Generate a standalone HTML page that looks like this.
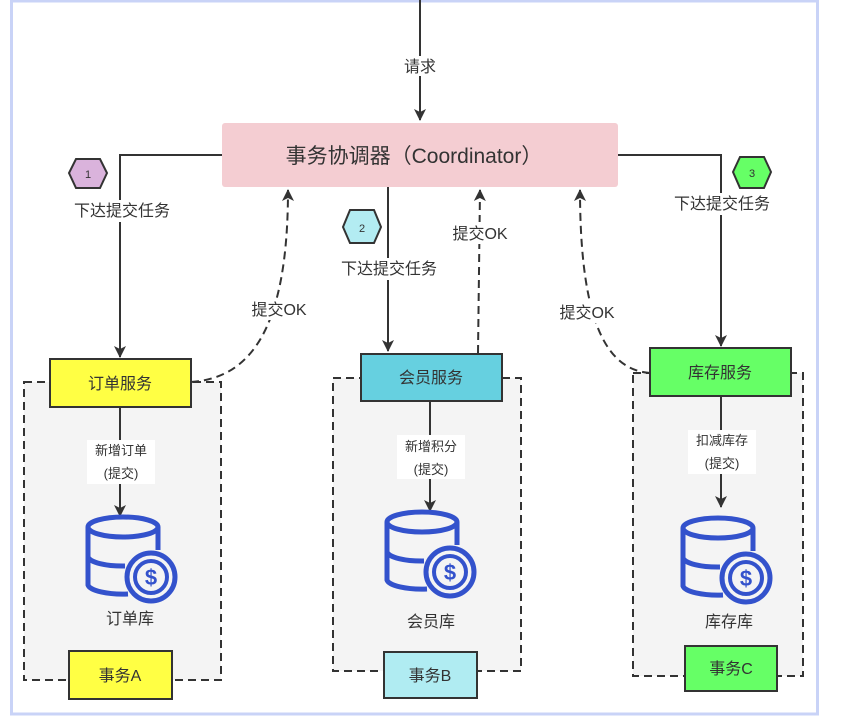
<!DOCTYPE html>
<html><head><meta charset="utf-8"><style>
html,body{margin:0;padding:0;background:#fff;}
svg{display:block;font-family:"Liberation Sans","Noto Sans CJK SC",sans-serif;}
</style></head><body>
<svg width="842" height="719" viewBox="0 0 842 719" xmlns="http://www.w3.org/2000/svg">
<defs>
<marker id="ar" markerWidth="14" markerHeight="14" refX="11" refY="6" orient="auto" markerUnits="userSpaceOnUse">
<path d="M0,0 L12,6 L0,12 L3,6 Z" fill="#333"/></marker>
<g id="db">
<path d="M-35,-28 L-35,30 A35,10 0 0 0 5,39" fill="none" stroke="#3352cc" stroke-width="5"/>
<ellipse cx="0" cy="-28" rx="35" ry="10" fill="none" stroke="#3352cc" stroke-width="5"/>
<path d="M35,-28 L35,-5" fill="none" stroke="#3352cc" stroke-width="5"/>
<path d="M-35,2 A35,10 0 0 0 2,11" fill="none" stroke="#3352cc" stroke-width="5"/>
<circle cx="28" cy="22" r="24" fill="#f4f4f4" stroke="#3352cc" stroke-width="5"/>
<circle cx="28" cy="22" r="16" fill="none" stroke="#3352cc" stroke-width="4"/>
<text x="28" y="30" font-size="22" font-weight="bold" fill="#3352cc" text-anchor="middle">$</text>
</g>
</defs>
<rect x="11.5" y="1" width="806" height="713" fill="none" stroke="#c9d3f7" stroke-width="3"/>

<rect x="24" y="382" width="197" height="298" fill="#f4f4f4" stroke="#333" stroke-width="2" stroke-dasharray="8,5"/>
<rect x="333" y="378" width="188" height="293" fill="#f4f4f4" stroke="#333" stroke-width="2" stroke-dasharray="8,5"/>
<rect x="633" y="373" width="170" height="303" fill="#f4f4f4" stroke="#333" stroke-width="2" stroke-dasharray="8,5"/>

<line x1="420" y1="0" x2="420" y2="120" stroke="#333" stroke-width="2" marker-end="url(#ar)"/>
<rect x="400" y="56" width="40" height="20" fill="#fff"/>
<text x="420" y="72" font-size="16" fill="#333" text-anchor="middle">请求</text>

<rect x="222" y="123" width="396" height="64" rx="3" fill="#f4cdd2"/>
<text x="414" y="163" font-size="21" fill="#333" text-anchor="middle">事务协调器（Coordinator）</text>

<polyline points="222,155 120,155 120,357" fill="none" stroke="#333" stroke-width="2" marker-end="url(#ar)"/>
<rect x="68" y="200" width="114" height="22" fill="#fff"/>
<text x="122" y="216" font-size="16" fill="#333" text-anchor="middle">下达提交任务</text>
<polygon points="76,159 100,159 107,173 100,188 76,188 69,173" fill="#dab3dc" stroke="#333" stroke-width="2"/>
<text x="88" y="178" font-size="11" fill="#333" text-anchor="middle">1</text>
<path d="M191,382 C250,378 288,330 288,190" fill="none" stroke="#333" stroke-width="2" stroke-dasharray="8,5" marker-end="url(#ar)"/>
<rect x="246" y="298" width="66" height="22" fill="#fff"/>
<text x="279" y="315" font-size="16" fill="#333" text-anchor="middle">提交OK</text>

<line x1="388" y1="187" x2="388" y2="351" stroke="#333" stroke-width="2" marker-end="url(#ar)"/>
<rect x="331" y="258" width="116" height="22" fill="#fff"/>
<text x="389" y="274" font-size="16" fill="#333" text-anchor="middle">下达提交任务</text>
<polygon points="350,210 374,210 381,227 374,243 350,243 343,227" fill="#b3ecf2" stroke="#333" stroke-width="2"/>
<text x="362" y="232" font-size="11" fill="#333" text-anchor="middle">2</text>
<path d="M478,353 L480,190" fill="none" stroke="#333" stroke-width="2" stroke-dasharray="8,5" marker-end="url(#ar)"/>
<rect x="446" y="222" width="68" height="22" fill="#fff"/>
<text x="480" y="239" font-size="16" fill="#333" text-anchor="middle">提交OK</text>

<polyline points="618,155 721,155 721,346" fill="none" stroke="#333" stroke-width="2" marker-end="url(#ar)"/>
<rect x="665" y="193" width="114" height="22" fill="#fff"/>
<text x="722" y="209" font-size="16" fill="#333" text-anchor="middle">下达提交任务</text>
<polygon points="740,157 764,157 771,172 764,188 740,188 733,172" fill="#66ff66" stroke="#333" stroke-width="2"/>
<text x="752" y="177" font-size="11" fill="#333" text-anchor="middle">3</text>
<path d="M650,373 C610,370 580,330 580,190" fill="none" stroke="#333" stroke-width="2" stroke-dasharray="8,5" marker-end="url(#ar)"/>
<rect x="553" y="301" width="68" height="22" fill="#fff"/>
<text x="587" y="318" font-size="16" fill="#333" text-anchor="middle">提交OK</text>

<rect x="50" y="359" width="141" height="48" fill="#ffff44" stroke="#333" stroke-width="2"/>
<text x="120" y="389" font-size="16" fill="#333" text-anchor="middle">订单服务</text>
<rect x="361" y="354" width="141" height="47" fill="#66d0e0" stroke="#333" stroke-width="2"/>
<text x="431" y="383" font-size="16" fill="#333" text-anchor="middle">会员服务</text>
<rect x="650" y="348" width="141" height="48" fill="#66ff66" stroke="#333" stroke-width="2"/>
<text x="720" y="378" font-size="16" fill="#333" text-anchor="middle">库存服务</text>

<line x1="120" y1="407" x2="120" y2="516" stroke="#333" stroke-width="2" marker-end="url(#ar)"/>
<rect x="87" y="440" width="68" height="44" fill="#fff"/>
<text x="121" y="455" font-size="13" fill="#333" text-anchor="middle">新增订单</text>
<text x="121" y="478" font-size="13" fill="#333" text-anchor="middle">(提交)</text>
<line x1="430" y1="401" x2="430" y2="511" stroke="#333" stroke-width="2" marker-end="url(#ar)"/>
<rect x="397" y="435" width="68" height="44" fill="#fff"/>
<text x="431" y="451" font-size="13" fill="#333" text-anchor="middle">新增积分</text>
<text x="431" y="474" font-size="13" fill="#333" text-anchor="middle">(提交)</text>
<line x1="721" y1="396" x2="721" y2="507" stroke="#333" stroke-width="2" marker-end="url(#ar)"/>
<rect x="688" y="430" width="68" height="44" fill="#fff"/>
<text x="722" y="445" font-size="13" fill="#333" text-anchor="middle">扣减库存</text>
<text x="722" y="468" font-size="13" fill="#333" text-anchor="middle">(提交)</text>

<use href="#db" x="123" y="555"/>
<text x="130" y="624" font-size="16" fill="#333" text-anchor="middle">订单库</text>
<use href="#db" x="422" y="550"/>
<text x="431" y="627" font-size="16" fill="#333" text-anchor="middle">会员库</text>
<use href="#db" x="718" y="556"/>
<text x="729" y="627" font-size="16" fill="#333" text-anchor="middle">库存库</text>

<rect x="69" y="651" width="103" height="48" fill="#ffff44" stroke="#333" stroke-width="2"/>
<text x="120" y="681" font-size="16" fill="#333" text-anchor="middle">事务A</text>
<rect x="384" y="652" width="93" height="46" fill="#b0ecf2" stroke="#333" stroke-width="2"/>
<text x="430" y="681" font-size="16" fill="#333" text-anchor="middle">事务B</text>
<rect x="685" y="646" width="92" height="45" fill="#66ff66" stroke="#333" stroke-width="2"/>
<text x="731" y="674" font-size="16" fill="#333" text-anchor="middle">事务C</text>
</svg>
</body></html>
